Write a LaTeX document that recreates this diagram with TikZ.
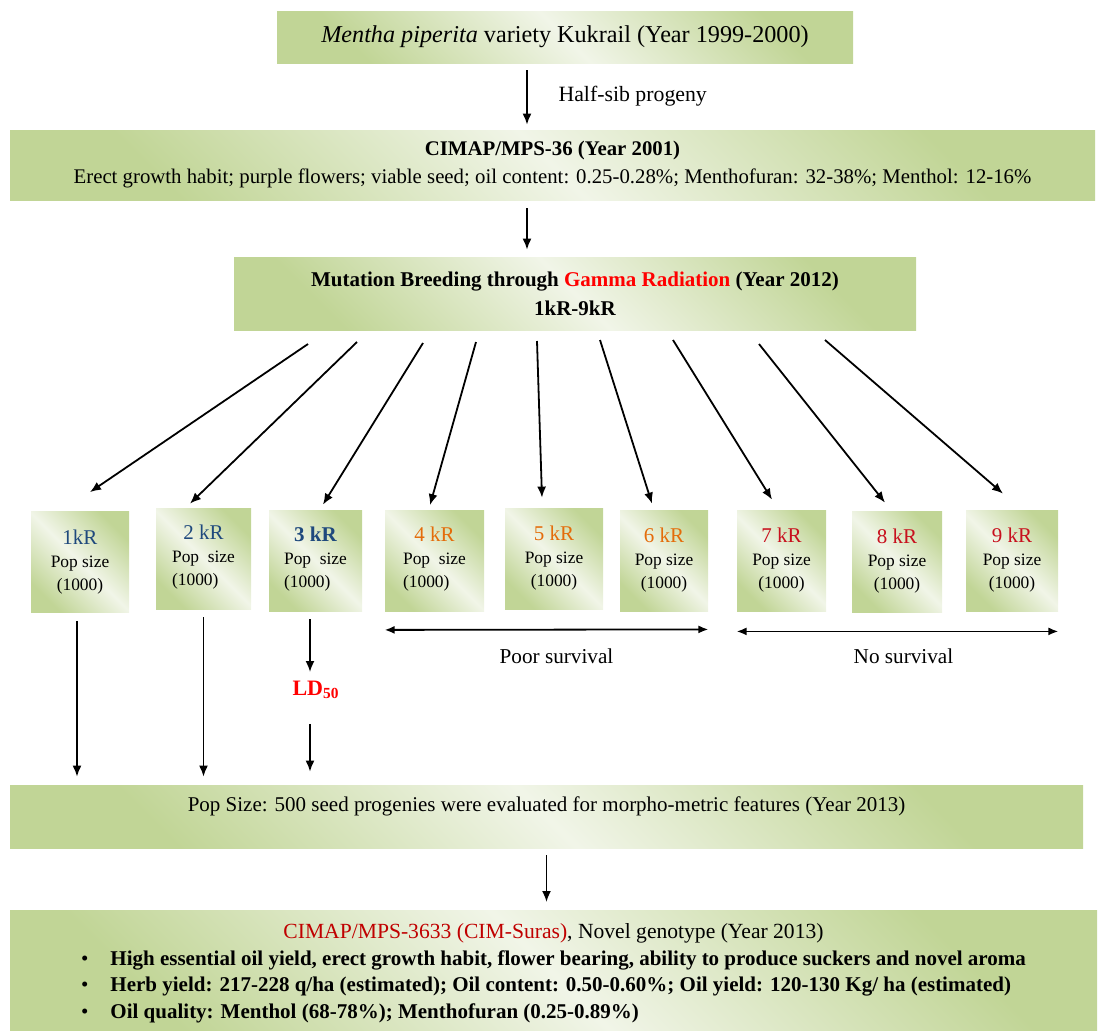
\documentclass[tikz,border=0pt]{standalone}
\usepackage{fontspec}
\setmainfont{Liberation Serif}
\usetikzlibrary{positioning,calc,arrows.meta}
\definecolor{boxdark}{RGB}{193,213,150}
\definecolor{boxlight}{RGB}{241,245,232}
\definecolor{dosea}{RGB}{31,73,125}
\definecolor{doseb}{RGB}{228,108,10}
\definecolor{dosec}{RGB}{200,16,30}
\definecolor{gammared}{RGB}{255,0,0}
\definecolor{newred}{RGB}{192,0,0}
\newcommand*\doselab[2]{{\fontsize{10.5}{12}\selectfont\textcolor{#1}{#2}}}
\newcommand*\popsz{Pop size\\(1000)}
\newcommand*\popszleft{\begin{tabular}[t]{@{}l@{}}Pop\enspace size\\(1000)\end{tabular}}
\tikzstyle{stage}=[top color=boxdark,bottom color=boxdark,middle color=boxlight,shading angle=-45,align=center]
\tikzstyle{dose}=[stage,minimum height=50.5pt,font=\fontsize{8.7}{11.5}\selectfont]
\tikzstyle{arr}=[-{Latex[length=5.5pt,width=4.5pt]},line width=0.9pt]
\tikzstyle{darr}=[{Latex[length=5pt,width=4pt]}-{Latex[length=5pt,width=4pt]},line width=0.9pt]

\begin{document}
\begin{tikzpicture}[x=0.5pt,y=-0.5pt]
      \useasboundingbox (0,0) rectangle (1105,1030);
      \node (variety) [stage,minimum width=288pt,minimum height=26pt,font=\fontsize{12.1}{14}\selectfont] at (565,37) {\textit{Mentha piperita} variety Kukrail (Year 1999-2000)};
      \node (cimap36) [stage,minimum width=542.5pt,minimum height=35pt,font=\fontsize{10.4}{14}\selectfont] at (552.5,165) {\textbf{CIMAP/MPS-36 (Year 2001)}\\Erect growth habit; purple flowers; viable seed; oil content: 0.25-0.28\%; Menthofuran: 32-38\%; Menthol: 12-16\%};
      \node (gamma) [stage,minimum width=341pt,minimum height=36.5pt,font=\bfseries\fontsize{10.5}{14.5}\selectfont] at (575,293.5) {Mutation Breeding through \textcolor{gammared}{Gamma Radiation} (Year 2012)\\1kR-9kR};
      \coordinate (hs) at (527,0);
      \draw[arr,shorten <=3.5pt,shorten >=2.5pt] (variety.south -| hs) -- (cimap36.north -| hs) node[midway,right=12pt,font=\fontsize{10.9}{13}\selectfont] (halfsib) {Half-sib progeny};
      \draw[arr,shorten <=4pt,shorten >=3.5pt] (cimap36.south -| hs) -- (gamma.north -| hs);
      % dose boxes
      \node (k1) [dose,minimum width=49pt] at (80,562) {\doselab{dosea}{1kR}\\\popsz};
      \node (k2) [dose,minimum width=47.5pt] at (203.5,558.5) {\doselab{dosea}{2 kR}\\\popszleft};
      \node (k3) [dose,minimum width=46.5pt] at (315.5,560.5) {\doselab{dosea}{\textbf{3 kR}}\\\popszleft};
      \node (k4) [dose,minimum width=49.5pt] at (434.5,561) {\doselab{doseb}{4 kR}\\\popszleft};
      \node (k5) [dose,minimum width=49pt] at (554,558.5) {\doselab{doseb}{5 kR}\\\popsz};
      \node (k6) [dose,minimum width=44pt] at (664,560.5) {\doselab{doseb}{6 kR}\\\popsz};
      \node (k7) [dose,minimum width=44.5pt] at (781.5,560.5) {\doselab{dosec}{7 kR}\\\popsz};
      \node (k8) [dose,minimum width=45pt] at (897,561.5) {\doselab{dosec}{8 kR}\\\popsz};
      \node (k9) [dose,minimum width=46pt] at (1012,560.5) {\doselab{dosec}{9 kR}\\\popsz};
      % fan of arrows
      \coordinate (f1) at (308,344);
      \coordinate (f2) at (357,342);
      \coordinate (f3) at (423,343);
      \coordinate (f4) at (476,342);
      \coordinate (f5) at (537,341);
      \coordinate (f6) at (600,340);
      \coordinate (f7) at (673,340);
      \coordinate (f8) at (759,344);
      \coordinate (f9) at (825,340);
      \draw[arr] (f1) -- ([shift={(10,-19)}]k1.north);
      \draw[arr] (f2) -- ([shift={(-13.5,-4)}]k2.north);
      \draw[arr] (f3) -- ([shift={(7.5,-5)}]k3.north);
      \draw[arr] (f4) -- ([shift={(-4.5,-5)}]k4.north);
      \draw[arr] (f5) -- ([shift={(-12,-10)}]k5.north);
      \draw[arr] (f6) -- ([shift={(-12,-6)}]k6.north);
      \draw[arr] (f7) -- ([shift={(-9.5,-10)}]k7.north);
      \draw[arr] (f8) -- ([shift={(-12,-8)}]k8.north);
      \draw[arr] (f9) -- ([shift={(-9,-16)}]k9.north);
      % survival
      \draw[darr] ([yshift=-9pt]k4.south west) -- ([yshift=-9pt]k6.south east) node[midway,below=6pt,xshift=5pt,font=\fontsize{10.6}{12}\selectfont] (poor) {Poor survival};
      \draw[darr] ([yshift=-10pt]k7.south west) -- ([yshift=-10pt]k9.south east) node[midway,below=5pt,xshift=3pt,font=\fontsize{10.6}{12}\selectfont] (nosurv) {No survival};
      \node (popsize) [stage,minimum width=536.5pt,inner ysep=0pt,text height=13pt,text depth=18.5pt,font=\fontsize{10.5}{12}\selectfont] at (546.5,816.5) {Pop Size: 500 seed progenies were evaluated for morpho-metric features (Year 2013)};
      \node (ld50) [text=gammared,font=\bfseries\fontsize{11}{13}\selectfont] at (316,690) {LD\textsubscript{50}};
      \draw[arr,shorten <=4pt,shorten >=4pt] ([xshift=-1.5pt]k1.south) -- ([xshift=-1.5pt]k1.south |- popsize.north);
      \draw[arr,shorten <=4pt,shorten >=4pt] (k2.south) -- (k2.south |- popsize.north);
      \draw[arr,shorten <=4pt,shorten >=1pt] ([xshift=-2.75pt]k3.south) -- ([xshift=-2.75pt]k3.south |- ld50.north);
      \draw[arr,shorten <=9pt,shorten >=6.5pt] ([xshift=-2.75pt]k3.south |- ld50.south) -- ([xshift=-2.75pt]k3.south |- popsize.north);
      \node (cimap3633) [stage,anchor=north,minimum width=543.5pt,inner ysep=5pt,font=\fontsize{10.5}{13.2}\selectfont] at (553.5,910) {\begin{tabular}[t]{@{}c@{}}{\fontsize{10.8}{13}\selectfont\textcolor{newred}{CIMAP/MPS-3633 (CIM-Suras)}, Novel genotype (Year 2013)}\\
        \begin{tabular}[t]{@{}l@{}}\textbullet\hspace{11pt}\textbf{High essential oil yield, erect growth habit, flower bearing, ability to produce suckers and novel aroma}\\
        \textbullet\hspace{11pt}\textbf{Herb yield: 217-228 q/ha (estimated); Oil content: 0.50-0.60\%; Oil yield: 120-130 Kg/ ha (estimated)}\\
        \textbullet\hspace{11pt}\textbf{Oil quality: Menthol (68-78\%); Menthofuran (0.25-0.89\%)}\end{tabular}\end{tabular}};
      \draw[arr,shorten <=3.5pt,shorten >=4pt] (popsize.south) -- (popsize.south |- cimap3633.north);
    \end{tikzpicture}
\end{document}
